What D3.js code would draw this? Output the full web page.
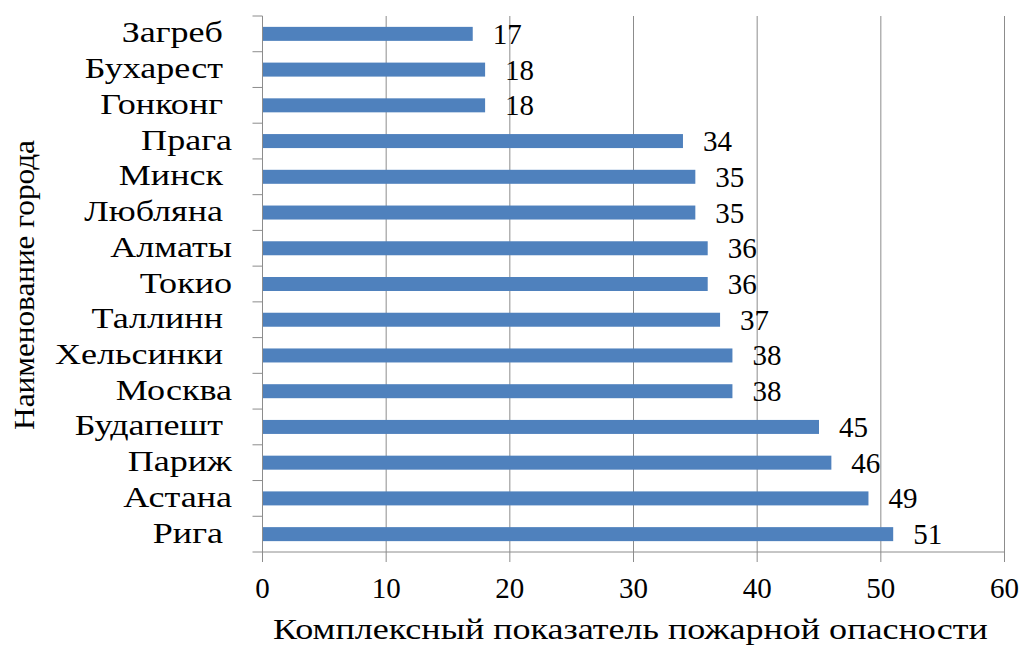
<!DOCTYPE html>
<html><head><meta charset="utf-8">
<script src="https://cdn.jsdelivr.net/npm/d3@7"></script>
</head>
<body style="margin:0;padding:0;background:#fff;"><svg id="c" width="1024" height="645"></svg>
<script>
const cities = ["Загреб ","Бухарест ","Гонконг ","Прага","Минск ","Любляна ","Алматы","Токио","Таллинн ","Хельсинки ","Москва","Будапешт ","Париж","Астана","Рига "];
const values = [17,18,18,34,35,35,36,36,37,38,38,45,46,49,51];
const xTicks = [0,10,20,30,40,50,60];
const xTitle = "Комплексный показатель пожарной опасности";
const yTitle = "Наименование города";

const FS = 29;
const svg = d3.select("#c");
const L = 262.5, R = 1004.5, T = 16, B = 552;
const x = d3.scaleLinear().domain([0,60]).range([L,R]);
const yb = d3.scaleBand().domain(cities).range([T,B]);

function txt(g, s, anchor){
  return g.append("text").attr("text-anchor",anchor||"start")
    .style("font-family","'Liberation Serif'").style("font-size",FS+"px")
    .text(s);
}

// gridlines
svg.append("g").selectAll("line").data(xTicks.slice(1)).join("line")
  .attr("x1",d=>x(d)).attr("x2",d=>x(d)).attr("y1",T).attr("y2",B)
  .attr("stroke","#8c8c8c").attr("stroke-width",1);

// bars
svg.append("g").selectAll("rect").data(cities).join("rect")
  .attr("x",x(0)).attr("y",d=>yb(d)+yb.bandwidth()/2-7)
  .attr("width",(d,i)=>x(values[i])-x(0)).attr("height",14)
  .attr("fill","#4F81BD");

// x axis
const xa = svg.append("g");
xa.append("line").attr("x1",L).attr("x2",R).attr("y1",B).attr("y2",B).attr("stroke","#8c8c8c");
xa.selectAll("line.t").data(xTicks).join("line").attr("class","t")
  .attr("x1",d=>x(d)).attr("x2",d=>x(d)).attr("y1",B).attr("y2",B+10).attr("stroke","#8c8c8c");
xTicks.forEach(v=>txt(xa, String(v), "middle").attr("x",x(v)).attr("y",598));

// y axis: ticks at band boundaries
const ya = svg.append("g");
ya.append("line").attr("x1",L).attr("x2",L).attr("y1",T).attr("y2",B).attr("stroke","#8c8c8c");
const bounds = cities.map(c=>yb(c)).concat([B]);
ya.selectAll("line.t").data(bounds).join("line").attr("class","t")
  .attr("x1",L-10).attr("x2",L).attr("y1",d=>d).attr("y2",d=>d).attr("stroke","#8c8c8c");
const catTexts = cities.map(c=>txt(ya, c, "end"));

// value labels
const vl = svg.append("g");
cities.forEach((c,i)=>txt(vl, String(values[i]), "start")
  .attr("x", x(values[i])+20).attr("y", yb(c)+yb.bandwidth()/2+10));

// titles
const xt = txt(svg, xTitle, "start");
const yt = txt(svg, yTitle, "middle");

// horizontal stretch from x title target width (273 -> 988)
const S = 715 / xt.node().getComputedTextLength();
xt.attr("transform",`translate(273,639) scale(${S},1)`);
const spaceW = FS * 0.25 * S;
catTexts.forEach((t,i)=>{
  const c = cities[i];
  const ax = 232 - (c.endsWith(" ") ? spaceW : 0);
  t.attr("transform",`translate(${ax},${yb(c)+yb.bandwidth()/2+8.5}) scale(${S},1)`);
});
const Ly = 290 / yt.node().getComputedTextLength();
yt.attr("transform",`translate(34,285) rotate(-90) scale(${Ly},1)`);
</script></body></html>
